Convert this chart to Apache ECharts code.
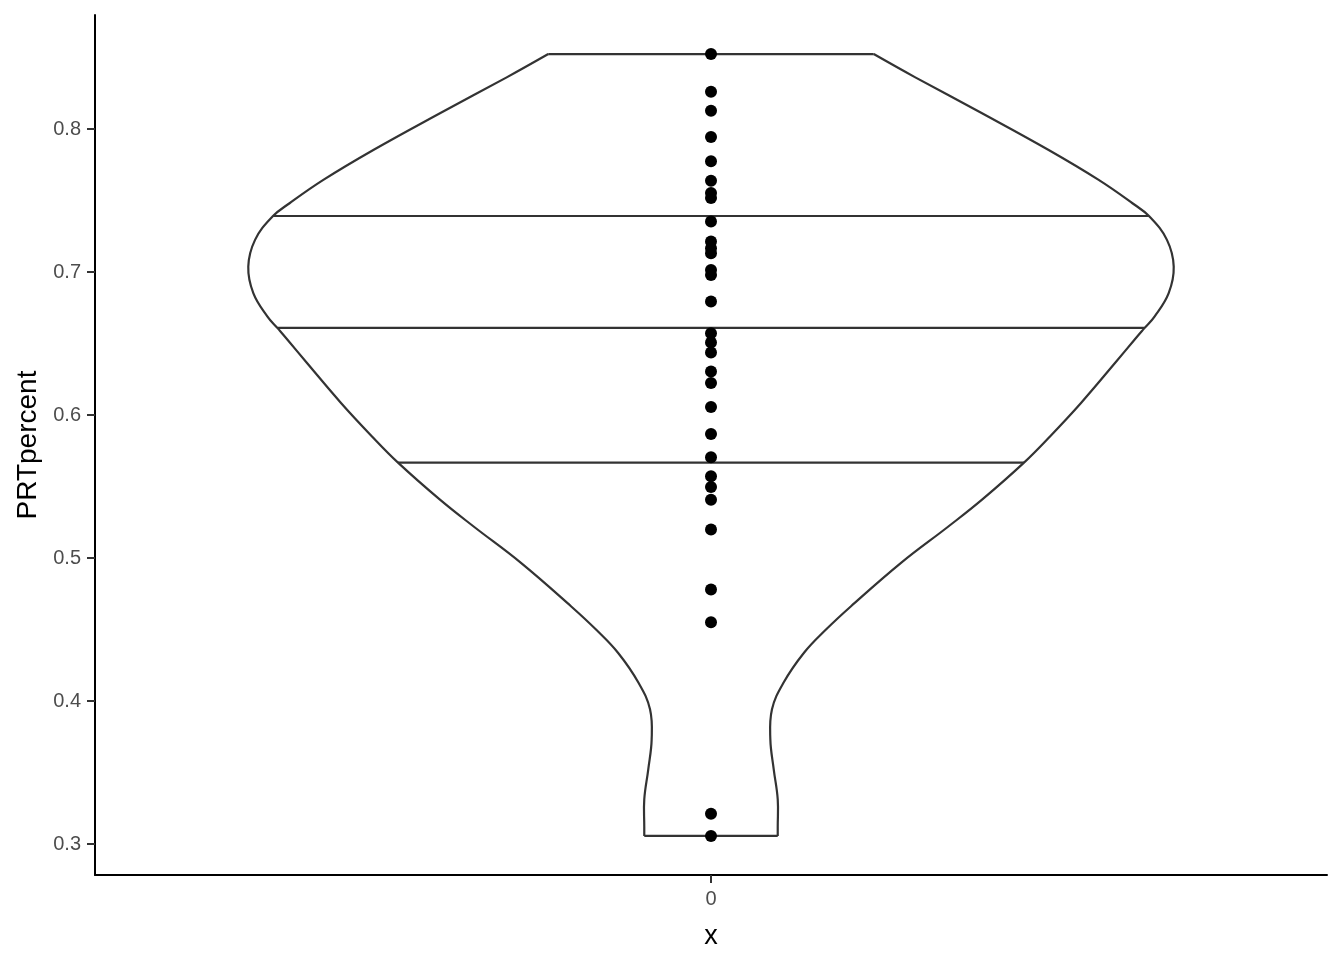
<!DOCTYPE html>
<html>
<head>
<meta charset="utf-8">
<script src="https://cdn.jsdelivr.net/npm/echarts@6/dist/echarts.min.js"></script>
<style>
  html, body { margin: 0; padding: 0; background: #ffffff; }
  #chart { width: 1344px; height: 960px; }
</style>
</head>
<body>
<div id="chart"></div>
<script>
// Observed PRTpercent values (single group "0")
const prtPercent = [
  0.8524, 0.8260, 0.8128, 0.7944, 0.7774, 0.7639, 0.7553, 0.7518,
  0.7353, 0.7213, 0.7167, 0.7132, 0.7015, 0.6980, 0.6794, 0.6573,
  0.6508, 0.6438, 0.6305, 0.6224, 0.6057, 0.5868, 0.5705, 0.5572,
  0.5498, 0.5409, 0.5200, 0.4781, 0.4552, 0.3214, 0.3058
];

// Violin outline: y level and half-width (x units)
const violinY = [
  0.8524, 0.8361, 0.8110, 0.7853, 0.7644, 0.7481, 0.7388, 0.7225,
  0.7038, 0.6853, 0.6689, 0.6608, 0.6527, 0.6364, 0.6085, 0.5851,
  0.5666, 0.5409, 0.5223, 0.4967, 0.4664, 0.4501, 0.4339, 0.4129,
  0.3943, 0.3733, 0.3524, 0.3314, 0.3124, 0.3058
];
const violinHalfWidth = [
  0.1585, 0.1990, 0.2640, 0.3289, 0.3776, 0.4105, 0.4271, 0.4441,
  0.4507, 0.4458, 0.4320, 0.4222, 0.4125, 0.3935, 0.3604, 0.3302,
  0.3046, 0.2640, 0.2315, 0.1851, 0.1364, 0.1120, 0.0906, 0.0706,
  0.0594, 0.0578, 0.0611, 0.0650, 0.0650, 0.0650
];

// Drawn quantiles (25%, 50%, 75%)
const quantileLevels = [0.5668, 0.6610, 0.7392];

// Axis ticks
const yTicks = [0.3, 0.4, 0.5, 0.6, 0.7, 0.8];
const xCategories = ['0'];

function halfWidthAt(v) {
  for (let i = 0; i < violinY.length - 1; i++) {
    const a = violinY[i], b = violinY[i + 1];
    if (v <= a && v >= b) {
      const t = (a - v) / (a - b);
      return violinHalfWidth[i] + t * (violinHalfWidth[i + 1] - violinHalfWidth[i]);
    }
  }
  return 0;
}

const chart = echarts.init(document.getElementById('chart'));
const lineColor = '#333333';

const option = {
  animation: false,
  backgroundColor: '#ffffff',
  grid: { left: 95, right: 17, top: 15, bottom: 85, containLabel: false },
  xAxis: {
    type: 'value',
    min: -0.6,
    max: 0.6,
    name: 'x',
    nameLocation: 'middle',
    nameGap: 48,
    nameTextStyle: { fontFamily: 'Liberation Sans', fontSize: 27, color: '#000000' },
    splitLine: { show: false },
    axisLine: { show: true, onZero: false, lineStyle: { color: '#000000', width: 2 } },
    axisTick: { show: true, length: 8, customValues: [0], lineStyle: { color: '#333333', width: 2 } },
    axisLabel: {
      show: true,
      customValues: [0],
      formatter: function () { return xCategories[0]; },
      fontFamily: 'Liberation Sans', fontSize: 20, color: '#4D4D4D', margin: 14
    }
  },
  yAxis: {
    type: 'value',
    min: 0.2785,
    max: 0.8797,
    name: 'PRTpercent',
    nameLocation: 'middle',
    nameGap: 46,
    nameRotate: 90,
    nameTextStyle: { fontFamily: 'Liberation Sans', fontSize: 28, color: '#000000' },
    splitLine: { show: false },
    axisLine: { show: true, onZero: false, lineStyle: { color: '#000000', width: 2 } },
    axisTick: { show: true, length: 8, customValues: yTicks, lineStyle: { color: '#333333', width: 2 } },
    axisLabel: {
      show: true,
      customValues: yTicks,
      formatter: function (v) { return v.toFixed(1); },
      fontFamily: 'Liberation Sans', fontSize: 20, color: '#4D4D4D', margin: 14
    }
  },
  series: [
    {
      type: 'custom',
      data: [[0, 0]],
      z: 1,
      renderItem: function (params, api) {
        const left = violinY.map((v, i) => api.coord([-violinHalfWidth[i], v]));
        const right = violinY.map((v, i) => api.coord([violinHalfWidth[i], v]));
        const n = violinY.length - 1;
        const stroke = { stroke: lineColor, lineWidth: 2.2, fill: null };
        const fillPts = left.concat(right.slice().reverse());
        const children = [
          { type: 'polygon', shape: { points: fillPts, smooth: 0 }, style: { fill: '#ffffff', stroke: null } },
          { type: 'polyline', shape: { points: left, smooth: 0.4 }, style: stroke },
          { type: 'polyline', shape: { points: right, smooth: 0.4 }, style: stroke },
          { type: 'line', shape: { x1: left[0][0], y1: left[0][1], x2: right[0][0], y2: right[0][1] }, style: stroke },
          { type: 'line', shape: { x1: left[n][0], y1: left[n][1], x2: right[n][0], y2: right[n][1] }, style: stroke }
        ];
        quantileLevels.forEach(function (q) {
          const hw = halfWidthAt(q);
          const p1 = api.coord([-hw, q]);
          const p2 = api.coord([hw, q]);
          children.push({ type: 'line', shape: { x1: p1[0], y1: p1[1], x2: p2[0], y2: p2[1] }, style: stroke });
        });
        return { type: 'group', children: children };
      }
    },
    {
      type: 'scatter',
      z: 5,
      symbol: 'circle',
      symbolSize: 12,
      itemStyle: { color: '#000000', opacity: 1 },
      data: prtPercent.map(v => [0, v])
    }
  ]
};
chart.setOption(option);
</script>
</body>
</html>
